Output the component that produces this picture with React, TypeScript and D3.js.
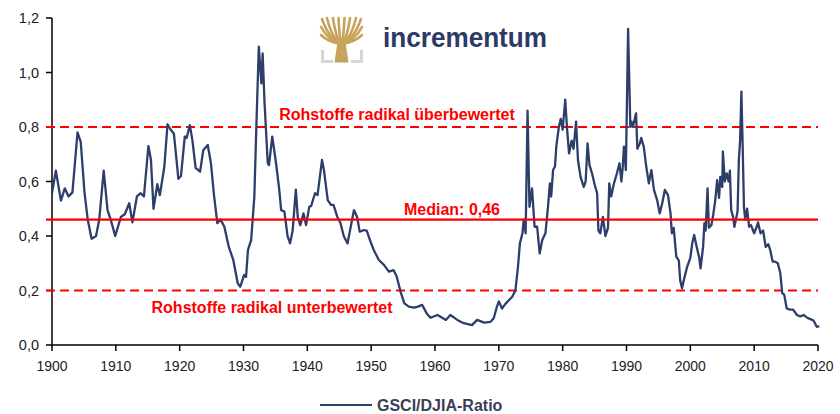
import React from "react";
import * as d3 from "d3";

const years: number[] = [
  1900.0, 1900.6, 1901.4, 1902.0, 1902.6, 1903.2, 1904.0, 1904.5, 1905.1, 1905.6,
  1906.2, 1906.9, 1907.4, 1908.1, 1908.7, 1909.2, 1909.9, 1910.8, 1911.4, 1912.1,
  1912.6, 1913.3, 1913.9, 1914.4, 1915.1, 1915.5, 1915.9, 1916.5, 1916.9, 1917.6,
  1918.1, 1918.6, 1919.1, 1919.8, 1920.2, 1920.8, 1921.1, 1921.6, 1922.0, 1922.5,
  1923.2, 1923.7, 1924.4, 1924.9, 1925.4, 1925.9, 1926.4, 1927.0, 1927.7, 1928.4,
  1929.1, 1929.5, 1930.1, 1930.4, 1930.7, 1931.2, 1931.7, 1932.0, 1932.4, 1932.8,
  1933.0, 1933.3, 1933.8, 1934.0, 1934.5, 1935.1, 1935.6, 1935.9, 1936.4, 1936.9,
  1937.3, 1937.7, 1938.2, 1938.5, 1938.9, 1939.4, 1939.8, 1940.3, 1940.6, 1941.2,
  1941.6, 1942.3, 1942.6, 1943.2, 1943.7, 1944.1, 1944.7, 1945.2, 1945.7, 1946.3,
  1946.8, 1947.3, 1947.8, 1948.2, 1948.9, 1949.3, 1949.9, 1950.4, 1951.2, 1952.0,
  1952.8, 1953.5, 1954.0, 1954.6, 1955.2, 1955.9, 1956.7, 1957.2, 1958.0, 1958.7,
  1959.3, 1960.4, 1961.7, 1962.4, 1963.5, 1964.5, 1965.8, 1966.6, 1967.7, 1968.7,
  1969.2, 1969.7, 1970.0, 1970.5, 1971.0, 1971.6, 1972.1, 1972.6, 1973.0, 1973.3,
  1973.7, 1973.9, 1974.2, 1974.5, 1974.8, 1975.2, 1975.6, 1976.0, 1976.4, 1976.8,
  1977.3, 1977.7, 1978.0, 1978.2, 1978.5, 1978.8, 1979.0, 1979.4, 1979.7, 1980.0,
  1980.4, 1980.7, 1981.0, 1981.4, 1981.7, 1982.1, 1982.4, 1982.8, 1983.3, 1983.6,
  1983.9, 1984.2, 1984.6, 1985.0, 1985.4, 1985.6, 1985.9, 1986.3, 1986.7, 1987.1,
  1987.3, 1987.6, 1988.0, 1988.5, 1988.9, 1989.2, 1989.4, 1989.6, 1989.9, 1990.25,
  1990.6, 1990.8, 1991.0, 1991.5, 1991.7, 1992.1, 1992.3, 1992.7, 1993.1, 1993.5,
  1993.9, 1994.3, 1994.8, 1995.2, 1995.6, 1996.0, 1996.5, 1996.9, 1997.1, 1997.4,
  1997.8, 1998.2, 1998.4, 1998.7, 1999.0, 1999.5, 2000.0, 2000.3, 2000.6, 2001.0,
  2001.4, 2001.6, 2002.0, 2002.2, 2002.4, 2002.7, 2002.9, 2003.3, 2003.6, 2003.9,
  2004.2, 2004.5, 2004.7, 2005.0, 2005.1, 2005.4, 2005.7, 2006.0, 2006.2, 2006.4,
  2006.7, 2006.9, 2007.4, 2007.6, 2007.8, 2008.0, 2008.2, 2008.4, 2008.6, 2008.9,
  2009.2, 2009.5, 2010.0, 2010.4, 2010.6, 2011.0, 2011.4, 2011.8, 2012.2, 2012.5,
  2012.9, 2013.3, 2013.7, 2014.1, 2014.4, 2014.7, 2015.1, 2015.6, 2016.1, 2016.7,
  2017.2, 2017.8, 2018.3, 2018.8, 2019.3, 2019.8, 2020.2,
];

const ratio: number[] = [
  0.557, 0.64, 0.53, 0.575, 0.545, 0.56, 0.78, 0.745, 0.557, 0.46,
  0.39, 0.40, 0.46, 0.64, 0.495, 0.46, 0.40, 0.47, 0.48, 0.52,
  0.45, 0.545, 0.557, 0.545, 0.73, 0.68, 0.50, 0.59, 0.55, 0.655,
  0.81, 0.79, 0.775, 0.61, 0.62, 0.765, 0.76, 0.807, 0.75, 0.65,
  0.636, 0.715, 0.734, 0.667, 0.545, 0.447, 0.461, 0.434, 0.36, 0.312,
  0.226, 0.214, 0.257, 0.25, 0.349, 0.385, 0.545, 0.79, 1.095, 0.96,
  1.07, 0.887, 0.667, 0.66, 0.765, 0.667, 0.57, 0.495, 0.49, 0.40,
  0.373, 0.42, 0.57, 0.47, 0.44, 0.483, 0.44, 0.507, 0.51, 0.557,
  0.55, 0.679, 0.642, 0.532, 0.514, 0.514, 0.47, 0.447, 0.40, 0.373,
  0.434, 0.495, 0.47, 0.416, 0.422, 0.42, 0.379, 0.349, 0.312, 0.294,
  0.269, 0.275, 0.251, 0.196, 0.153, 0.141, 0.137, 0.14, 0.147, 0.116,
  0.10, 0.11, 0.092, 0.11, 0.092, 0.08, 0.073, 0.092, 0.082, 0.085,
  0.098, 0.141, 0.16, 0.134, 0.15, 0.165, 0.177, 0.20, 0.287, 0.373,
  0.41, 0.46, 0.41, 0.86, 0.507, 0.575, 0.434, 0.434, 0.336, 0.385,
  0.41, 0.507, 0.593, 0.545, 0.642, 0.655, 0.728, 0.80, 0.83, 0.79,
  0.90, 0.79, 0.703, 0.75, 0.72, 0.82, 0.679, 0.617, 0.58, 0.60,
  0.74, 0.66, 0.63, 0.59, 0.557, 0.42, 0.41, 0.47, 0.40, 0.43,
  0.593, 0.545, 0.59, 0.63, 0.667, 0.60, 0.65, 0.728, 0.642, 1.16,
  0.80, 0.82, 0.80, 0.85, 0.72, 0.74, 0.76, 0.728, 0.654, 0.593,
  0.642, 0.569, 0.532, 0.483, 0.52, 0.569, 0.55, 0.483, 0.41, 0.43,
  0.324, 0.31, 0.239, 0.208, 0.24, 0.287, 0.32, 0.373, 0.404, 0.36,
  0.32, 0.281, 0.36, 0.447, 0.42, 0.575, 0.43, 0.44, 0.48, 0.53,
  0.605, 0.54, 0.617, 0.58, 0.71, 0.60, 0.63, 0.60, 0.64, 0.495,
  0.47, 0.434, 0.49, 0.679, 0.752, 0.93, 0.728, 0.507, 0.46, 0.50,
  0.434, 0.44, 0.41, 0.434, 0.45, 0.41, 0.42, 0.36, 0.37, 0.35,
  0.306, 0.306, 0.30, 0.263, 0.19, 0.185, 0.134, 0.13, 0.13, 0.11,
  0.105, 0.11, 0.10, 0.095, 0.09, 0.067, 0.068,
];

const xTicks: number[] = [1900, 1910, 1920, 1930, 1940, 1950, 1960, 1970, 1980, 1990, 2000, 2010, 2020];
const yTicks: number[] = [0, 0.2, 0.4, 0.6, 0.8, 1.0, 1.2];
const yTickLabels: string[] = ["0,0", "0,2", "0,4", "0,6", "0,8", "1,0", "1,2"];

const overValue = 0.8;
const underValue = 0.2;
const medianValue = 0.46;
const overLabel = "Rohstoffe radikal überbewertet";
const underLabel = "Rohstoffe radikal unterbewertet";
const medianLabel = "Median: 0,46";
const seriesName = "GSCI/DJIA-Ratio";

const FONT = "'Liberation Sans', Arial, Helvetica, sans-serif";
const NAVY = "#2d3e6b";
const RED = "#ff0000";
const GOLD = "#c6a45c";

export default function App() {
  const x = d3.scaleLinear().domain([1900, 2020]).range([52, 818]);
  const y = d3.scaleLinear().domain([0, 1.2]).range([345, 18]);
  const pts: [number, number][] = years.map((yr, i) => [yr, ratio[i]]);
  const line = d3
    .line<[number, number]>()
    .x((d) => x(d[0]))
    .y((d) => y(d[1]));

  const redX0 = 46;
  const redX1 = 818;

  // logo branches (decorative)
  const trunkTop: [number, number] = [341.5, 44];
  const branchEnds: [number, number][] = [
    [322, 19], [327, 18], [333, 18], [338.5, 18], [344.5, 18], [350, 18], [356, 18], [361, 19],
    [321, 27], [362, 27], [321, 35], [362, 35],
  ];

  return (
    <svg width={840} height={414} style={{ display: "block", position: "absolute", left: 0, top: 0 }}>
      <rect x={0} y={0} width={840} height={414} fill="#ffffff" />

      {/* logo */}
      <g>
        {branchEnds.map((b, i) => (
          <path
            key={i}
            d={`M${trunkTop[0]},${trunkTop[1]} Q${b[0] + (trunkTop[0] - b[0]) * 0.35},${b[1] + (trunkTop[1] - b[1]) * 0.8} ${b[0]},${b[1]}`}
            fill="none"
            stroke={GOLD}
            strokeWidth={2.6}
            strokeLinecap="round"
          />
        ))}
        <path d="M338,38 L345,38 L348.5,62.5 L334.5,62.5 Z" fill={GOLD} />
        <path d="M322.5,50 L322.5,61.5 L333,61.5" fill="none" stroke="#d6d6d6" strokeWidth={3} />
        <path d="M361.5,50 L361.5,61.5 L351,61.5" fill="none" stroke="#d6d6d6" strokeWidth={3} />
        <text
          x={383}
          y={47}
          fontFamily={FONT}
          fontWeight="bold"
          fontSize={28}
          fill="#2c3a66"
          textLength={164}
          lengthAdjust="spacingAndGlyphs"
        >
          incrementum
        </text>
      </g>

      {/* axes */}
      <line x1={52} y1={18} x2={52} y2={345} stroke="#000" strokeWidth={1.5} />
      <line x1={52} y1={345} x2={818} y2={345} stroke="#000" strokeWidth={1.5} />
      {yTicks.map((t, i) => (
        <g key={"y" + t}>
          <line x1={46} y1={y(t)} x2={52} y2={y(t)} stroke="#000" strokeWidth={1.5} />
          <text x={39} y={y(t) + 5} textAnchor="end" fontFamily={FONT} fontSize={14.5} fill="#222">
            {yTickLabels[i]}
          </text>
        </g>
      ))}
      {xTicks.map((t) => (
        <g key={"x" + t}>
          <line x1={x(t)} y1={345} x2={x(t)} y2={351} stroke="#000" strokeWidth={1.5} />
          <text x={x(t)} y={371} textAnchor="middle" fontFamily={FONT} fontSize={14} fill="#222">
            {t}
          </text>
        </g>
      ))}

      {/* reference lines */}
      <line x1={redX0} y1={y(overValue)} x2={redX1} y2={y(overValue)} stroke={RED} strokeWidth={2} strokeDasharray="9,5" />
      <line x1={redX0} y1={y(underValue)} x2={redX1} y2={y(underValue)} stroke={RED} strokeWidth={2} strokeDasharray="9,5" />

      {/* series */}
      <path d={line(pts) || ""} fill="none" stroke={NAVY} strokeWidth={2.3} strokeLinejoin="round" />

      <line x1={redX0} y1={y(medianValue)} x2={redX1} y2={y(medianValue)} stroke={RED} strokeWidth={2.2} />

      <text x={397} y={120} textAnchor="middle" fontFamily={FONT} fontWeight="bold" fontSize={16} fill={RED}>
        {overLabel}
      </text>
      <text x={452} y={215} textAnchor="middle" fontFamily={FONT} fontWeight="bold" fontSize={16} fill={RED}>
        {medianLabel}
      </text>
      <text x={272} y={313} textAnchor="middle" fontFamily={FONT} fontWeight="bold" fontSize={16} fill={RED}>
        {underLabel}
      </text>

      {/* legend */}
      <line x1={320} y1={405} x2={372} y2={405} stroke={NAVY} strokeWidth={2} />
      <text x={377} y={411} fontFamily={FONT} fontWeight="bold" fontSize={16} fill="#3a4055">
        {seriesName}
      </text>
    </svg>
  );
}
